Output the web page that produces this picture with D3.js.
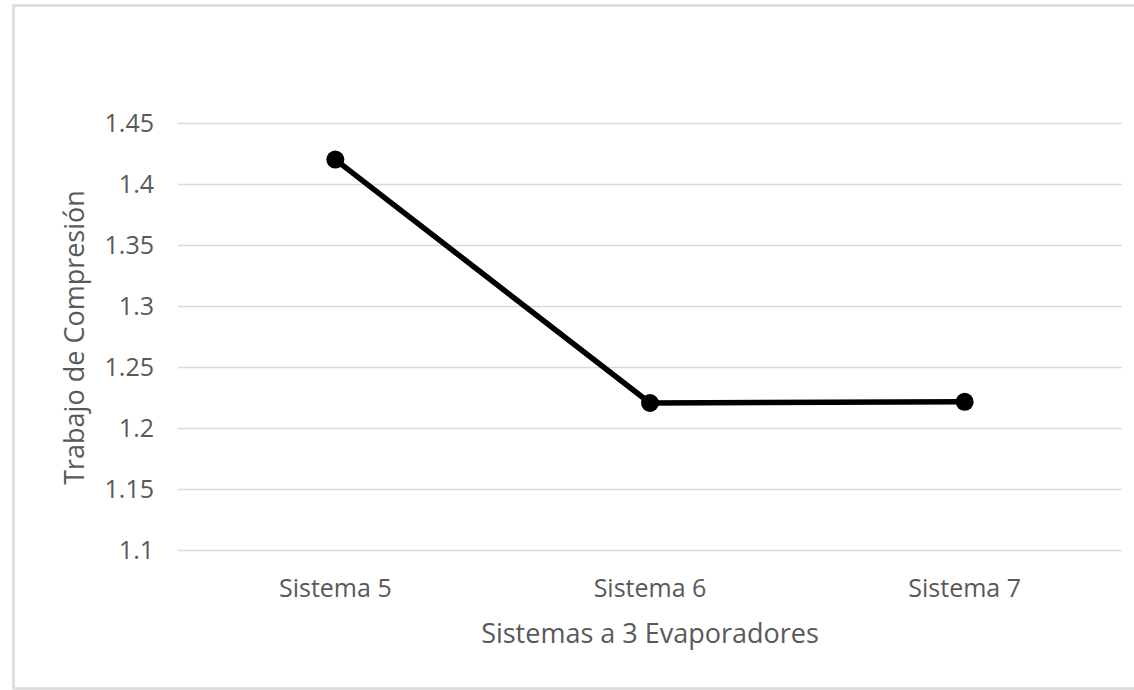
<!DOCTYPE html>
<html>
<head>
<meta charset="utf-8">
<script src="https://cdn.jsdelivr.net/npm/d3@7"></script>
<style>
  html, body { margin: 0; padding: 0; background: #fff; }
  svg { display: block; }
  text { font-family: "Open Sans", "Noto Sans", sans-serif; fill: #595959; }
</style>
</head>
<body>
<svg id="chart" width="1134" height="690"></svg>
<script>
// Compression work for each three-evaporator system
const categories = ["Sistema 5", "Sistema 6", "Sistema 7"];
const values = [1.42, 1.2205, 1.2215];
const yTicks = [1.1, 1.15, 1.2, 1.25, 1.3, 1.35, 1.4, 1.45];
const xTitle = "Sistemas a 3 Evaporadores";
const yTitle = "Trabajo de Compresión";

const W = 1134, H = 690;
const plot = { left: 178, right: 1122, top: 123, bottom: 550 };

const svg = d3.select("#chart");

// chart frame
svg.append("rect")
  .attr("x", 13.5).attr("y", 5.5)
  .attr("width", W).attr("height", 683)
  .attr("fill", "#fff")
  .attr("stroke", "#d9d9d9")
  .attr("stroke-width", 2.5);

const x = d3.scaleBand()
  .domain(categories)
  .range([plot.left, plot.right])
  .padding(0);

const y = d3.scaleLinear()
  .domain([1.1, 1.45])
  .range([plot.bottom, plot.top]);

// horizontal gridlines + value labels
const yAxis = d3.axisLeft(y)
  .tickValues(yTicks)
  .tickFormat(d => d3.format("")(+d.toFixed(2)))
  .tickSize(-(plot.right - plot.left))
  .tickPadding(24);

const gy = svg.append("g")
  .attr("transform", `translate(${plot.left},0)`)
  .call(yAxis);
gy.select(".domain").remove();
gy.selectAll(".tick line").attr("stroke", "#d9d9d9").attr("stroke-width", 1.3);
gy.selectAll(".tick text")
  .attr("font-size", 25)
  .attr("fill", "#595959")
  .attr("font-family", "Open Sans, sans-serif");

// category labels
const xAxis = d3.axisBottom(x).tickSize(0).tickPadding(29);
const gx = svg.append("g")
  .attr("transform", `translate(0,${plot.bottom})`)
  .call(xAxis);
gx.select(".domain").remove();
gx.selectAll(".tick text")
  .attr("font-size", 25)
  .attr("fill", "#595959")
  .attr("font-family", "Open Sans, sans-serif");

// series line
const cx = d => x(d.cat) + x.bandwidth() / 2;
const pts = categories.map((c, i) => ({ cat: c, v: values[i] }));

svg.append("path")
  .datum(pts)
  .attr("fill", "none")
  .attr("stroke", "#000")
  .attr("stroke-width", 5.5)
  .attr("stroke-linejoin", "round")
  .attr("d", d3.line().x(cx).y(d => y(d.v)));

svg.selectAll("circle.pt")
  .data(pts)
  .join("circle")
  .attr("class", "pt")
  .attr("cx", cx)
  .attr("cy", d => y(d.v))
  .attr("r", 9)
  .attr("fill", "#000");

// axis titles
svg.append("text")
  .attr("x", (plot.left + plot.right) / 2)
  .attr("y", 634)
  .attr("dy", "0.35em")
  .attr("text-anchor", "middle")
  .attr("font-size", 27)
  .text(xTitle);

svg.append("text")
  .attr("transform", `translate(75,${(plot.top + plot.bottom) / 2 + 1}) rotate(-90)`)
  .attr("dy", "0.35em")
  .attr("text-anchor", "middle")
  .attr("font-size", 27)
  .text(yTitle);
</script>
</body>
</html>
